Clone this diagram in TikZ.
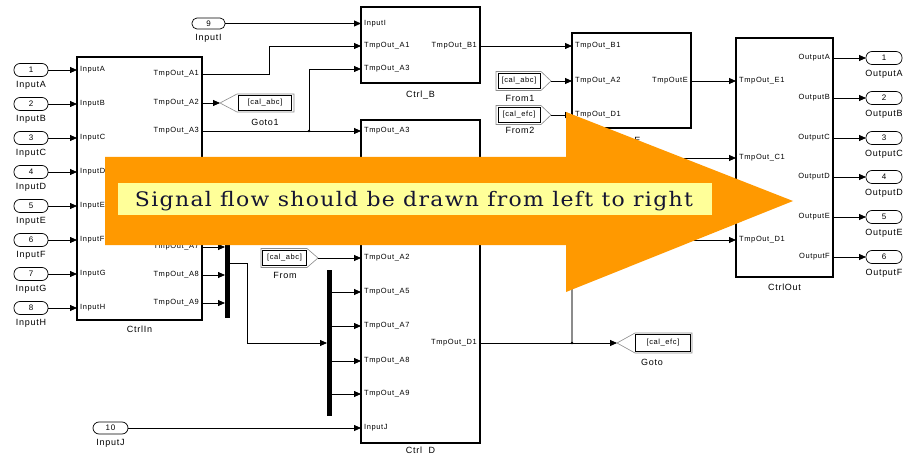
\documentclass[tikz,border=0pt]{standalone}
\usepackage{fontspec}
\usepackage{graphicx}
\usetikzlibrary{arrows.meta,calc}
\newfontfamily\lab{Liberation Sans}[LetterSpace=8]
\newfontfamily\bannerfont{DejaVu Serif}[LetterSpace=6]
\definecolor{arroworange}{HTML}{FF9900}
\definecolor{bannery}{HTML}{FFFF99}
\definecolor{bannertext}{HTML}{141432}
\begin{document}
\begin{tikzpicture}[x=1pt,y=-1pt,
  blk/.style={draw=black, line width=1.3pt, inner sep=0pt, outer sep=0pt, fill=white},
  pill/.style={draw=black, line width=0.7pt, rounded corners=6pt, minimum width=34pt, minimum height=13pt, inner sep=0pt, outer sep=0pt, font=\lab\fontsize{8}{8}\selectfont},
  sig/.style={draw=black, line width=0.8pt, -{Triangle[length=7pt,width=6pt]}},
  wire/.style={draw=black, line width=0.8pt},
  plab/.style={font=\lab\fontsize{7.5}{7.5}\selectfont, inner sep=0pt},
  olab/.style={font=\lab\fontsize{9}{9}\selectfont, inner sep=0pt},
  tagbox/.style={draw=black, line width=0.7pt, inner sep=0pt, outer sep=0pt, font=\lab\fontsize{7.5}{7.5}\selectfont},
  notch/.style={draw=black!45, line width=0.6pt},
  busbar/.style={fill=black, draw=none, inner sep=0pt, outer sep=0pt, minimum width=5pt},
  dot/.style={fill=black}
]
\useasboundingbox (0,0) rectangle (909,454);
\fill[white] (0,0) rectangle (909,454);

% ---------- blocks ----------
\node[blk, minimum width=125pt, minimum height=263pt] (ctrlin) at (139.5,188.5) {};
\node[olab] (ctrlinlab) at (139.5,329) {CtrlIn};
\node[blk, minimum width=119pt, minimum height=76pt] (ctrlb) at (420.5,45) {};
\node[olab] (ctrlblab) at (420.5,95) {Ctrl\_B};
\node[blk, minimum width=119pt, minimum height=323pt] (ctrld) at (420.5,281.5) {};
\node[olab] (ctrldlab) at (420.5,451) {Ctrl\_D};
\node[blk, minimum width=119pt, minimum height=95pt] (ctrle) at (631.5,80.5) {};
\node[olab] (ctrlelab) at (626,141) {Ctrl\_E};
\node[blk, minimum width=97pt, minimum height=239pt] (ctrlout) at (784.5,157.5) {};
\node[olab] (ctrloutlab) at (784.5,287) {CtrlOut};

% ---------- port coordinates ----------
\coordinate (ciA1) at (202,74);
\coordinate (ciA2) at (202,103);
\coordinate (ciA3) at (202,131);
\coordinate (ciA7) at (202,247);
\coordinate (ciA8) at (202,275);
\coordinate (ciA9) at (202,303);
\coordinate (cbI) at (361,23.5);
\coordinate (cbA1) at (361,46);
\coordinate (cbA3) at (361,69);
\coordinate (cbB1) at (480,46);
\coordinate (cdA3) at (361,131);
\coordinate (cdA2) at (361,258);
\coordinate (cdA5) at (361,292);
\coordinate (cdA7) at (361,326);
\coordinate (cdA8) at (361,361);
\coordinate (cdA9) at (361,394);
\coordinate (cdJ) at (361,428);
\coordinate (cdD1) at (480,343);
\coordinate (ceB1) at (572,46);
\coordinate (ceA2) at (572,81);
\coordinate (ceD1) at (572,115);
\coordinate (ceE) at (691,81);
\coordinate (coE1) at (736,81);
\coordinate (coC1) at (736,158);
\coordinate (coD1) at (736,240);

% ---------- inports 1..8 ----------
\foreach \n/\y/\l in {1/70/A,2/104/B,3/138/C,4/172/D,5/206/E,6/240/F,7/274/G,8/308/H}{
  \node[pill] (in\n) at (31,\y) {\n};
  \node[olab] (in\n lab) at (31,\y+15) {Input\l};
  \draw[sig] (in\n.east) -- (in\n.east -| ctrlin.west);
  \node[plab, anchor=west] (ci\n in) at (80,\y) {Input\l};
}

% CtrlIn output labels
\node[plab, anchor=east] (lA1) at (199,74) {TmpOut\_A1};
\node[plab, anchor=east] (lA2) at (199,103) {TmpOut\_A2};
\node[plab, anchor=east] (lA3) at (199,131) {TmpOut\_A3};
\node[plab, anchor=east] (lA7) at (199,247) {TmpOut\_A7};
\node[plab, anchor=east] (lA8) at (199,275) {TmpOut\_A8};
\node[plab, anchor=east] (lA9) at (199,303) {TmpOut\_A9};

% Ctrl_B labels
\node[plab, anchor=west] (bl1) at (364,23.5) {InputI};
\node[plab, anchor=west] (bl2) at (364,46) {TmpOut\_A1};
\node[plab, anchor=west] (bl3) at (364,69) {TmpOut\_A3};
\node[plab, anchor=east] (bl4) at (477,46) {TmpOut\_B1};

% Ctrl_D labels
\node[plab, anchor=west] (dl1) at (364,131) {TmpOut\_A3};
\node[plab, anchor=west] (dl2) at (364,258) {TmpOut\_A2};
\node[plab, anchor=west] (dl3) at (364,292) {TmpOut\_A5};
\node[plab, anchor=west] (dl4) at (364,326) {TmpOut\_A7};
\node[plab, anchor=west] (dl5) at (364,361) {TmpOut\_A8};
\node[plab, anchor=west] (dl6) at (364,394) {TmpOut\_A9};
\node[plab, anchor=west] (dl7) at (364,428) {InputJ};
\node[plab, anchor=east] (dl8) at (477,343) {TmpOut\_D1};

% Ctrl_E labels
\node[plab, anchor=west] (el1) at (575,46) {TmpOut\_B1};
\node[plab, anchor=west] (el2) at (575,81) {TmpOut\_A2};
\node[plab, anchor=west] (el3) at (575,115) {TmpOut\_D1};
\node[plab, anchor=east] (el4) at (688,81) {TmpOutE};

% CtrlOut labels
\node[plab, anchor=west] (ol1) at (739,81) {TmpOut\_E1};
\node[plab, anchor=west] (ol2) at (739,158) {TmpOut\_C1};
\node[plab, anchor=west] (ol3) at (739,240) {TmpOut\_D1};

% ---------- inports 9, 10 ----------
\node[pill, minimum width=33pt, minimum height=11pt, rounded corners=5pt] (in9) at (208.5,23.5) {9};
\node[olab] (in9lab) at (208.5,38) {InputI};
\node[pill, minimum width=35pt, minimum height=12pt] (in10) at (110.5,428) {10};
\node[olab] (in10lab) at (110.5,443) {InputJ};
\draw[sig] (in9.east) -- (cbI);
\draw[sig] (in10.east) -- (cdJ);

% ---------- Goto1 [cal_abc] ----------
\coordinate (g1tip) at (220,103);
\draw[notch] (g1tip) -- (237,94) -- (294,94) -- (294,112) -- (237,112) -- cycle;
\node[tagbox, minimum width=53pt, minimum height=15pt] (goto1) at (265,103) {[cal\_abc]};
\node[olab] (goto1lab) at (265,122) {Goto1};

% ---------- From [cal_abc] ----------
\coordinate (f0tip) at (318,258);
\draw[notch] (261,248.5) -- (307,248.5) -- (f0tip) -- (307,267.5) -- (261,267.5) -- cycle;
\node[tagbox, minimum width=44pt, minimum height=15pt] (from0) at (284.5,258) {[cal\_abc]};
\node[olab] (from0lab) at (285,275) {From};

% ---------- From1 / From2 ----------
\coordinate (f1tip) at (551,81);
\draw[notch] (496,71.5) -- (541,71.5) -- (f1tip) -- (541,90.5) -- (496,90.5) -- cycle;
\node[tagbox, minimum width=42pt, minimum height=15pt] (from1) at (519,81) {[cal\_abc]};
\node[olab] (from1lab) at (520,98) {From1};
\coordinate (f2tip) at (551,115);
\draw[notch] (496,105.5) -- (541,105.5) -- (f2tip) -- (541,124.5) -- (496,124.5) -- cycle;
\node[tagbox, minimum width=42pt, minimum height=15pt] (from2) at (519,115) {[cal\_efc]};
\node[olab] (from2lab) at (520,130) {From2};

% ---------- Goto [cal_efc] ----------
\coordinate (g2tip) at (617,343);
\draw[notch] (g2tip) -- (635,333) -- (692,333) -- (692,353) -- (635,353) -- cycle;
\node[tagbox, minimum width=55pt, minimum height=17pt] (goto2) at (663,343) {[cal\_efc]};
\node[olab] (goto2lab) at (652,362) {Goto};

% ---------- bus bars ----------
\node[busbar, minimum height=83pt] (bus1) at (227.5,276.5) {};
\node[busbar, minimum height=146pt] (bus2) at (329.5,343) {};
\coordinate (b1o) at (230,263);
\coordinate (b2i) at (327,343);

% ---------- signal lines ----------
\draw[sig] (ciA1) -- ++(67,0) |- (cbA1);
\draw[sig] (ciA2) -- (g1tip);
\draw[sig] (ciA3) -- (cdA3);
\coordinate (j1) at (309,131);
\fill[dot] (j1) circle (1.4pt);
\draw[sig] (j1) |- (cbA3);
\draw[sig] (ciA7) -- (ciA7 -| bus1.west);
\draw[sig] (ciA8) -- (ciA8 -| bus1.west);
\draw[sig] (ciA9) -- (ciA9 -| bus1.west);
\draw[sig] (b1o) -- ++(17,0) |- (b2i);
\foreach \p in {cdA5,cdA7,cdA8,cdA9}{
  \draw[sig] (bus2.east |- \p) -- (\p);
}
\draw[sig] (f0tip) -- (cdA2);
\draw[sig] (cbB1) -- (ceB1);
\draw[sig] (f1tip) -- (ceA2);
\draw[sig] (f2tip) -- (ceD1);
\draw[sig] (ceE) -- (coE1);
\coordinate (hid1) at (650,158);
\draw[sig] (hid1) -- (coC1);
\coordinate (j2) at (572,343);
\coordinate (k2) at (572,240);
\draw[wire] (cdD1) -- (j2);
\draw[sig] (j2) -- (g2tip);
\draw[draw=black!45, line width=1.3pt] (j2) -- (k2);
\fill[dot] (j2) circle (1.4pt);
\draw[sig] (k2) -- (coD1);

% ---------- outports ----------
\foreach \n/\y/\l in {1/58/A,2/98/B,3/138/C,4/177/D,5/217/E,6/257/F}{
  \node[pill, minimum width=36pt] (out\n) at (884,\y) {\n};
  \node[olab] (out\n lab) at (884,\y+16) {Output\l};
  \coordinate (coo\l) at (833,\y);
  \draw[sig] (coo\l) -- (out\n.west);
  \node[plab, anchor=east] (oo\n) at (830,\y) {Output\l};
}

% ---------- big arrow overlay ----------
\fill[arroworange] (105,157) -- (566,157) -- (566,112) -- (793,201) -- (566,292) -- (566,245) -- (105,245) -- cycle;
\fill[bannery] (118,183) rectangle (712,215);
\node[anchor=base, inner sep=0pt, text=bannertext] (banner) at (414,207)
  {\resizebox{558pt}{\height}{\bannerfont\fontsize{20}{20}\selectfont Signal flow should be drawn from left to right}};
\end{tikzpicture}
\end{document}
